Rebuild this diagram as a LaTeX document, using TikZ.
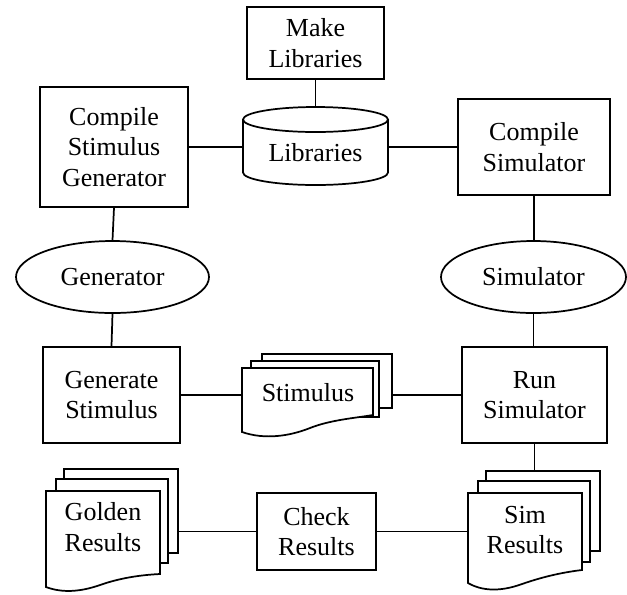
\documentclass[tikz,border=0pt]{standalone}
\usepackage{fontspec}
\setmainfont{Liberation Serif}
\usetikzlibrary{shapes.geometric}
\begin{document}
\begin{tikzpicture}[x=0.75pt,y=-0.75pt,
  line width=1.3pt,
  lbl/.style={align=center,font=\fontsize{19.5}{23}\selectfont,inner sep=0pt},
  box/.style={draw,lbl},
  page/.style={draw,fill=white,inner sep=0pt},
  ghost/.style={inner sep=0pt,outer sep=0pt}]
\useasboundingbox (0,0) rectangle (627,594);

% boxes
\node[box,minimum width=102.75pt,minimum height=54pt] (ml) at (315.5,43) {Make\\Libraries};
\node[box,minimum width=111pt,minimum height=90pt] (csg) at (114,147) {Compile\\Stimulus\\Generator};
\node[box,minimum width=114pt,minimum height=72pt] (cs) at (534,147) {Compile\\Simulator};
\node[box,minimum width=102.75pt,minimum height=72pt] (gs) at (111.5,395) {Generate\\Stimulus};
\node[box,minimum width=108.75pt,minimum height=72pt] (rs) at (534.5,395) {Run\\Simulator};
\node[box,minimum width=89.25pt,minimum height=57.75pt] (cr) at (316.5,531.5) {Check\\Results};

% ellipses
\node[draw,ellipse,inner sep=0pt,minimum width=144.75pt,minimum height=54pt] (gen) at (112.5,277) {};
\node[lbl] (gent) at (112.5,277) {Generator};
\node[draw,ellipse,inner sep=0pt,minimum width=138.75pt,minimum height=54pt] (sim) at (533.5,277) {};
\node[lbl] (simt) at (533.5,277) {Simulator};

% cylinder
\draw[fill=white] (243,119.5) -- (243,172.5)
  arc[start angle=180,end angle=360,x radius=54.375pt,y radius=9.375pt] -- (388,119.5);
\draw (315.5,119.5) ellipse [x radius=54.375pt,y radius=9.375pt];
\node[ghost,minimum width=108.75pt,minimum height=58.5pt] (lib) at (315.5,146) {};
\node[lbl] (libt) at (315.5,153) {Libraries};

% Stimulus document
\node[page,minimum width=97.5pt,minimum height=40.5pt] (stim3) at (327,381) {};
\node[page,minimum width=96pt,minimum height=42pt] (stim2) at (315,389) {};
\draw[fill=white] (242,432) -- (242,368) -- (373,368) -- (373,415)
  .. controls (355,418) and (330,420) .. (310,428)
  .. controls (290,436) and (265,440) .. (242,432) -- cycle;
\node[ghost,minimum width=98.25pt,minimum height=35.25pt] (stimf) at (307.5,391.5) {};
\node[lbl] (stimt) at (308,393) {Stimulus};

% Golden Results document
\node[page,minimum width=85.5pt,minimum height=63pt] (gold3) at (121,511) {};
\node[page,minimum width=84pt,minimum height=63pt] (gold2) at (112,521) {};
\draw[fill=white] (46,587) -- (46,491) -- (160,491) -- (160,574)
  .. controls (140,575) and (120,578) .. (100,585)
  .. controls (80,592) and (62,593) .. (46,587) -- cycle;
\node[ghost,minimum width=85.5pt,minimum height=62.25pt] (goldf) at (103,532.5) {};
\node[lbl] (goldt) at (103,527) {Golden\\Results};

% Sim Results document
\node[page,minimum width=85.5pt,minimum height=60pt] (sim3) at (543,511) {};
\node[page,minimum width=84pt,minimum height=60.75pt] (sim2) at (534,521.5) {};
\draw[fill=white] (468,583) -- (468,493) -- (582,493) -- (582,570)
  .. controls (565,572) and (545,576) .. (522,584)
  .. controls (500,592) and (482,591) .. (468,583) -- cycle;
\node[ghost,minimum width=85.5pt,minimum height=57.75pt] (simf) at (525,531.5) {};
\node[lbl] (simrt) at (525,530) {Sim\\Results};

% connectors
\draw (ml.south) -- (lib.north);
\draw (csg.east) -- (csg.east -| lib.west);
\draw (cs.west -| lib.east) -- (cs.west);
\draw (csg.south) -- (gen.north);
\draw (gen.south) -- (gs.north);
\draw (cs.south) -- (cs.south |- sim.north);
\draw (sim.south) -- (sim.south |- rs.north);
\draw (gs.east) -- (gs.east -| stimf.west);
\draw (rs.west -| stim3.east) -- (rs.west);
\draw (rs.south) -- (rs.south |- sim3.north);
\draw (cr.west -| gold3.east) -- (cr.west);
\draw (cr.east) -- (cr.east -| simf.west);
\end{tikzpicture}
\end{document}
